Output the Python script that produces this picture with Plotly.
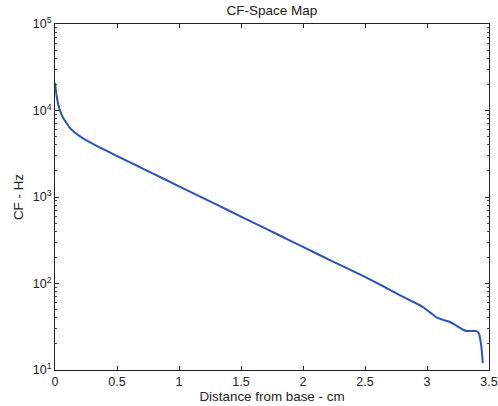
import plotly.graph_objects as go

# Distance from base (cm) and characteristic frequency (Hz)
distance_cm = [0, 0.002, 0.008, 0.016, 0.028, 0.043, 0.06, 0.083, 0.12, 0.164, 0.22,
               0.272, 0.34, 0.406, 0.47, 0.54, 0.61, 0.688, 0.8, 1.0, 1.2, 1.4, 1.6,
               1.8, 2.0, 2.25, 2.5, 2.65, 2.78, 2.9, 2.97, 3.03, 3.08, 3.13, 3.185,
               3.24, 3.29, 3.32, 3.40, 3.42, 3.43, 3.44, 3.45]
cf_hz = [20900, 19950, 16600, 13960, 11480, 9770, 8510, 7500, 6310, 5500, 4831,
         4365, 3882, 3483, 3126, 2793, 2495, 2203, 1837, 1330, 964, 698, 506,
         366, 265, 177, 119, 92.3, 73.3, 60.3, 53.1, 45.7, 40.3, 38.0, 35.9,
         32.4, 29.2, 28.2, 28.2, 26.3, 22.4, 17.8, 12.0]

x_ticks = [0, 0.5, 1, 1.5, 2, 2.5, 3, 3.5]
x_tick_text = ["0", "0.5", "1", "1.5", "2", "2.5", "3", "3.5"]
y_ticks = [10, 100, 1000, 10000, 100000]
y_tick_text = ["10<sup>1</sup>", "10<sup>2</sup>", "10<sup>3</sup>", "10<sup>4</sup>", "10<sup>5</sup>"]

fig = go.Figure()
fig.add_trace(go.Scatter(x=distance_cm, y=cf_hz, mode="lines",
                         line=dict(color="#2c50c6", width=2, shape="spline", smoothing=0.4),
                         showlegend=False))

font = dict(family="Liberation Sans, Arial, sans-serif", size=12, color="#222")
fig.update_layout(
    width=498, height=406,
    margin=dict(l=55, r=9, t=24, b=36),
    paper_bgcolor="white", plot_bgcolor="white",
    font=font,
    title=dict(text="CF-Space Map", x=0.546, xanchor="center", y=0.975, yanchor="middle",
               font=dict(size=13.5)),
)
fig.update_xaxes(
    range=[0, 3.5], tickvals=x_ticks, ticktext=x_tick_text, automargin=False,
    showline=True, linecolor="#222", linewidth=1, mirror="ticks",
    ticks="inside", ticklen=4, tickcolor="#222", showgrid=False, zeroline=False,
    tickfont=dict(size=12.5),
    title=dict(text="Distance from base - cm", standoff=2, font=dict(size=13.4)),
)
fig.update_yaxes(
    type="log", range=[1, 5], tickvals=y_ticks, ticktext=y_tick_text, automargin=False,
    showline=True, linecolor="#222", linewidth=1, mirror="ticks",
    ticks="inside", ticklen=4, tickcolor="#222", showgrid=False, zeroline=False,
    tickfont=dict(size=12.5),
    minor=dict(ticks="inside", ticklen=2, tickcolor="#444", dtick="D1", showgrid=False),
    title=dict(text="CF - Hz", standoff=6, font=dict(size=13.4)),
)
fig.write_html("out.html")
